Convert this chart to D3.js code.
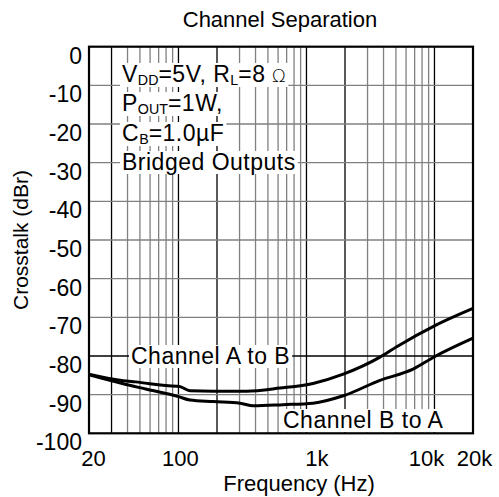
<!DOCTYPE html>
<html><head><meta charset="utf-8">
<script src="https://cdn.jsdelivr.net/npm/d3@7"></script>
<style>body{margin:0;background:#fff}svg{display:block}text{font-family:"Liberation Sans",Arial,sans-serif;fill:#000}</style>
</head><body><svg id="c" width="499" height="497"></svg>
<script>
// Data
const xTickValues = [20, 100, 1000, 10000, 20000];
const xTickLabels = ["20", "100", "1k", "10k", "20k"];
const xTickShift  = [4, 1.5, 10, -8.5, 1];   // label offsets as placed in the original
const yTickValues = [0, -10, -20, -30, -40, -50, -60, -70, -80, -90, -100];
const xMinorGrid = [30,40,50,60,70,80,90,100,200,300,400,500,600,700,800,900,1000,2000,3000,4000,5000,6000,7000,8000,9000,10000];
const xDarkGrid = [30, 100, 200, 1000, 2000, 10000];
const yGrid = [-10,-20,-30,-40,-50,-60,-70,-80,-90];
const yDarkGrid = [-80];
const freqAtoB = [20, 37, 46, 97, 100, 123, 186, 341, 621, 1125, 1940, 3750, 5070, 10000, 20000];
const dbAtoB   = [-84.7, -86.4, -86.7, -87.8, -87.8, -89.0, -89.1, -89.1, -88.3, -87.1, -84.7, -80.3, -77.6, -72.2, -67.7];
const freqBtoA = [20, 37, 56.5, 100, 123, 187, 303, 384, 656, 1125, 1940, 3750, 6800, 10000, 20000];
const dbBtoA   = [-84.9, -87.2, -88.6, -90.5, -91.4, -91.8, -92.2, -92.9, -92.6, -92.2, -90.3, -86.3, -83.4, -80.2, -75.4];

const svg = d3.select("#c");
const L = 89, R = 473, T = 46.7, B = 433.3;
const x = d3.scaleLog().domain([20, 20000]).range([L, R]);
const y = d3.scaleLinear().domain([-100, 0]).range([B, T]);
const FONT = '"Liberation Sans",Arial,sans-serif';

// grid
const g = svg.append("g");
g.selectAll("line.v").data(xMinorGrid).enter().append("line")
  .attr("x1", d => x(d)).attr("x2", d => x(d)).attr("y1", T).attr("y2", B)
  .attr("stroke", d => xDarkGrid.includes(d) ? "#000" : "#808080").attr("stroke-width", 1.3);
g.selectAll("line.h").data(yGrid).enter().append("line")
  .attr("y1", d => y(d)).attr("y2", d => y(d)).attr("x1", L).attr("x2", R)
  .attr("stroke", d => yDarkGrid.includes(d) ? "#000" : "#808080").attr("stroke-width", 1.3);

// curves
const line = d3.line().x(d => x(d[0])).y(d => y(d[1])).curve(d3.curveMonotoneX);
svg.append("path").datum(freqAtoB.map((f,i)=>[f,dbAtoB[i]])).attr("d", line)
  .attr("fill","none").attr("stroke","#000").attr("stroke-width",3);
svg.append("path").datum(freqBtoA.map((f,i)=>[f,dbBtoA[i]])).attr("d", line)
  .attr("fill","none").attr("stroke","#000").attr("stroke-width",3);

// frame
svg.append("rect").attr("x", L).attr("y", T).attr("width", R-L).attr("height", B-T)
  .attr("fill","none").attr("stroke","#000").attr("stroke-width",2.2);

// axes labels
const xAxis = d3.axisBottom(x).tickValues(xTickValues).tickFormat((d,i)=>xTickLabels[i]).tickSize(0);
const xa = svg.append("g").attr("transform",`translate(0,${B})`).call(xAxis);
xa.select(".domain").remove();
xa.selectAll("text").attr("font-size",22).attr("dy",0).attr("y",33)
  .attr("dx",(d,i)=>xTickShift[i]).style("font-family",FONT);
const yAxis = d3.axisLeft(y).tickValues(yTickValues).tickFormat(d => String(d)).tickSize(0);
const ya = svg.append("g").attr("transform",`translate(${L},0)`).call(yAxis);
ya.select(".domain").remove();
ya.selectAll("text").attr("font-size",23).attr("x",-7).attr("dy","0.72em").attr("y",0).style("font-family",FONT);

svg.append("text").attr("x",280).attr("y",27).attr("text-anchor","middle").attr("font-size",22).text("Channel Separation");
svg.append("text").attr("x",299).attr("y",491).attr("text-anchor","middle").attr("font-size",22).text("Frequency (Hz)");
svg.append("text").attr("transform","translate(28,240) rotate(-90)").attr("text-anchor","middle").attr("font-size",21).text("Crosstalk (dBr)");

// annotations with white background
function label(xp, yp, parts, size) {
  const grp = svg.append("g");
  const bg = grp.append("rect").attr("fill","#fff");
  const t = grp.append("text").attr("x",xp).attr("y",yp).attr("font-size",size).attr("letter-spacing",0.5);
  parts.forEach(p => {
    const ts = t.append("tspan").text(p.t);
    if (p.sub) ts.attr("font-size", size*0.62).attr("dy", 3).attr("letter-spacing",0);
    else if (p.after) ts.attr("dy", -3);
    if (p.omega) ts.attr("font-size", size*0.8).style("font-family",'"DejaVu Sans",sans-serif').attr("font-weight",200);
  });
  const bb = t.node().getBBox();
  bg.attr("x", bb.x-2).attr("y", bb.y+2).attr("width", bb.width+4).attr("height", bb.height-3);
}
label(122, 82, [{t:"V"},{t:"DD",sub:1},{t:"=5V, R",after:1},{t:"L",sub:1},{t:"=8",after:1},{t:" Ω",omega:1}], 23);
label(122, 111, [{t:"P"},{t:"OUT",sub:1},{t:"=1W,",after:1}], 23);
label(122, 141, [{t:"C"},{t:"B",sub:1},{t:"=1.0µF",after:1}], 23);
label(122, 170, [{t:"Bridged Outputs"}], 23);
label(131, 364, [{t:"Channel A to B"}], 23);
label(283, 428, [{t:"Channel B to A"}], 23);
</script></body></html>
